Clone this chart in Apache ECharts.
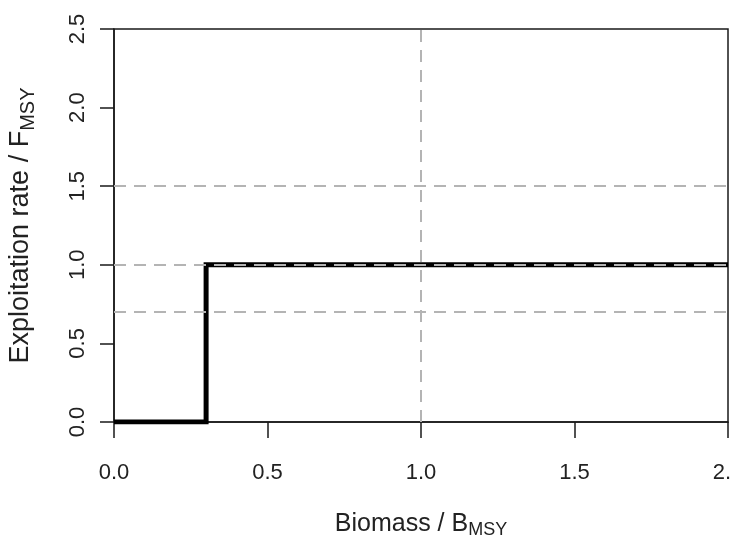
<!DOCTYPE html>
<html>
<head>
<meta charset="utf-8">
<script src="https://cdn.jsdelivr.net/npm/echarts@6/dist/echarts.min.js"></script>
<style>
html,body{margin:0;padding:0;background:#fff;}
#chart{width:730px;height:542px;}
</style>
</head>
<body>
<div id="chart"></div>
<script>
// Harvest control rule: biomass (x) vs exploitation rate (y)
var biomass = [0, 0.3, 0.3, 2.0];
var exploitation = [0, 0, 1.0, 1.0];
// Reference lines
var hRefLines = [0.7, 1.0, 1.5];
var vRefLines = [1.0];
// Axis ranges / ticks
var xMin = 0, xMax = 2.0, xStep = 0.5;
var yMin = 0, yMax = 2.5, yStep = 0.5;

var FONT = '"Liberation Sans", Arial, sans-serif';

var lineData = biomass.map(function (b, i) { return [b, exploitation[i]]; });
var refMarks = hRefLines.map(function (v) { return { yAxis: v }; })
  .concat(vRefLines.map(function (v) { return { xAxis: v }; }));

var chart = echarts.init(document.getElementById('chart'), null, { renderer: 'canvas' });
chart.setOption({
  animation: false,
  backgroundColor: '#ffffff',
  grid: {
    left: 114, top: 29, right: 2, bottom: 120,
    containLabel: false, outerBoundsMode: 'none',
    show: true, borderColor: '#1a1a1a', borderWidth: 1.5, backgroundColor: 'transparent'
  },
  xAxis: {
    type: 'value', min: xMin, max: xMax, interval: xStep,
    splitLine: { show: false },
    axisLine: { show: true, onZero: false, lineStyle: { color: '#1a1a1a', width: 1.5 } },
    axisTick: { show: true, length: 16, lineStyle: { color: '#1a1a1a', width: 1.5 } },
    axisLabel: {
      margin: 40, fontFamily: FONT, fontSize: 22, color: '#222',
      formatter: function (v) { return v.toFixed(1); }
    },
    name: '{n|Biomass / B}{s|MSY}',
    nameLocation: 'middle', nameGap: 87,
    nameTextStyle: {
      rich: {
        n: { fontFamily: FONT, fontSize: 25, color: '#222' },
        s: { fontFamily: FONT, fontSize: 18, color: '#222', padding: [12, 0, 0, 0] }
      }
    }
  },
  yAxis: {
    type: 'value', min: yMin, max: yMax, interval: yStep,
    splitLine: { show: false },
    axisLine: { show: true, onZero: false, lineStyle: { color: '#1a1a1a', width: 1.5 } },
    axisTick: { show: true, length: 14, lineStyle: { color: '#1a1a1a', width: 1.5 } },
    axisLabel: {
      rotate: 90, margin: 25, fontFamily: FONT, fontSize: 22, color: '#222',
      formatter: function (v) { return v.toFixed(1); }
    },
    name: '{n|Exploitation rate / F}{s|MSY}',
    nameLocation: 'middle', nameGap: 76, nameRotate: 90,
    nameTextStyle: {
      rich: {
        n: { fontFamily: FONT, fontSize: 27, color: '#222' },
        s: { fontFamily: FONT, fontSize: 20, color: '#222', padding: [14, 0, 0, 0] }
      }
    }
  },
  series: [
    {
      type: 'line', data: lineData, symbol: 'none', clip: true, z: 2,
      lineStyle: { color: '#000', width: 5, join: 'miter', cap: 'butt' }
    },
    {
      type: 'line', data: [], symbol: 'none', z: 5,
      markLine: {
        silent: true, symbol: 'none', animation: false,
        label: { show: false },
        lineStyle: { color: '#b4b4b4', width: 2, type: [12, 8] },
        data: refMarks
      }
    }
  ]
});
</script>
</body>
</html>
